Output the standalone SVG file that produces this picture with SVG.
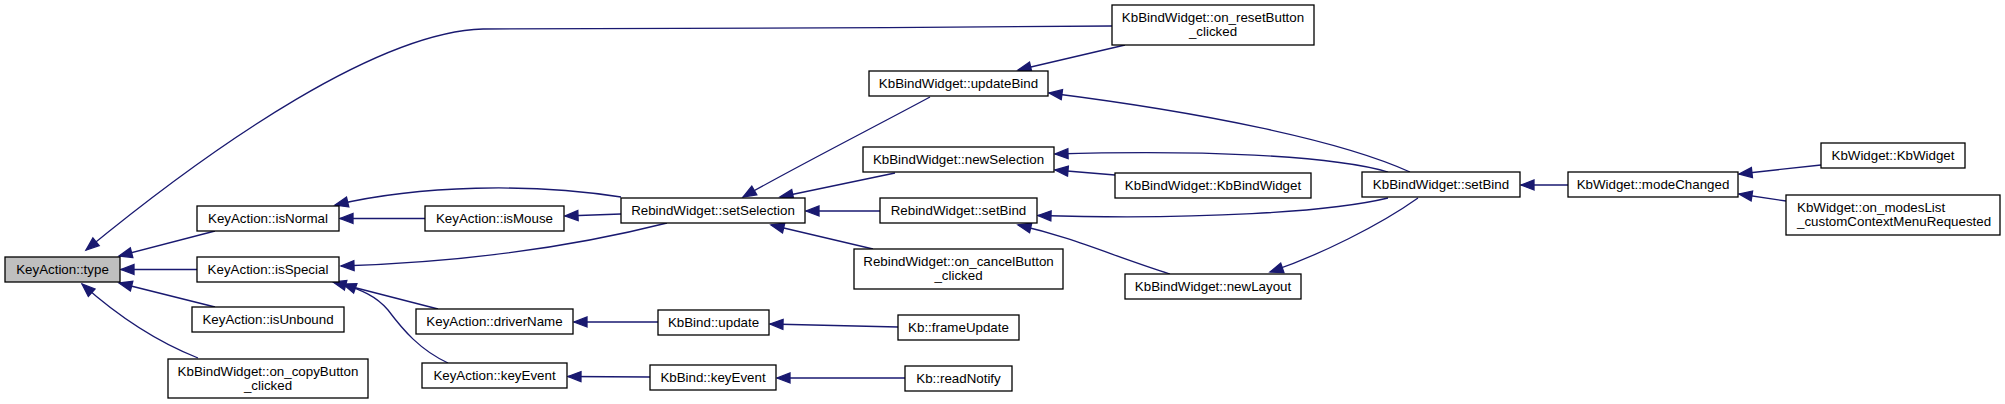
<svg xmlns="http://www.w3.org/2000/svg" width="2005" height="404" viewBox="0 0 2005 404">
<style>
.n rect{fill:#ffffff;stroke:#000000;stroke-width:1.3}
.n.hl rect{fill:#bfbfbf}
.n text{font-family:"Liberation Sans",Arial,Helvetica,sans-serif;font-size:13.33px;fill:#000000;text-anchor:middle}
.n text.l{text-anchor:start}
#edges path{fill:none;stroke:#191970;stroke-width:1.3;marker-end:url(#ah)}
</style>
<defs>
<marker id="ah" markerUnits="userSpaceOnUse" markerWidth="14" markerHeight="10" refX="13" refY="5" orient="auto" overflow="visible">
<path d="M0,0 L13,5 L0,10 Z" fill="#191970" stroke="#191970" stroke-width="1.3"/>
</marker>
</defs>
<rect width="2005" height="404" fill="#ffffff"/>
<g id="edges">
<path d="M1112,26 C900,28 600,29 483,29 C380,32 220,140 86,250"/>
<path d="M215,231 L119,256"/>
<path d="M197,269.5 L121,269.5"/>
<path d="M215,307 L119,283"/>
<path d="M198,358 C160,343 120,318 82,284"/>
<path d="M425,218.5 L340,218.5"/>
<path d="M621,197 C530,183 420,185 335,205"/>
<path d="M667,223 C580,245 470,262 341,266"/>
<path d="M621,214 L565,216"/>
<path d="M438,309 L333,282"/>
<path d="M448,363 C420,350 403,330 388,310 C375,295 360,290 343,284"/>
<path d="M658,322 L574,322"/>
<path d="M650,377 L568,376.5"/>
<path d="M898,327 L770,324"/>
<path d="M905,378 L777,378"/>
<path d="M930,97 C880,124 790,170 743,197"/>
<path d="M895,173 L780,197"/>
<path d="M880,211 L806,211"/>
<path d="M873,249 L771,225"/>
<path d="M1125,45 L1018,70"/>
<path d="M1410,172 C1340,140 1200,112 1049,93"/>
<path d="M1388,172 C1330,155 1200,150 1055,154"/>
<path d="M1115,175 L1055,170"/>
<path d="M1388,198 C1330,212 1200,220 1038,215.5"/>
<path d="M1418,198 C1380,225 1320,255 1270,272"/>
<path d="M1170,274 C1110,255 1075,238 1018,225"/>
<path d="M1568,185 L1521,185"/>
<path d="M1821,165 L1739,174"/>
<path d="M1786,201 L1739,194"/>
</g>
<g id="n_type" class="n hl"><rect x="5" y="257" width="115" height="25"/><text x="62.5" y="274">KeyAction::type</text></g>
<g id="n_isNormal" class="n"><rect x="197" y="206" width="142" height="25"/><text x="268" y="223">KeyAction::isNormal</text></g>
<g id="n_isSpecial" class="n"><rect x="197" y="257" width="142" height="25"/><text x="268" y="274">KeyAction::isSpecial</text></g>
<g id="n_isUnbound" class="n"><rect x="192" y="307" width="152" height="25"/><text x="268" y="324">KeyAction::isUnbound</text></g>
<g id="n_copyButton" class="n"><rect x="168" y="359" width="200" height="39"/><text x="268" y="376">KbBindWidget::on_copyButton</text><text x="268" y="390">_clicked</text></g>
<g id="n_isMouse" class="n"><rect x="425" y="206" width="139" height="25"/><text x="494.5" y="223">KeyAction::isMouse</text></g>
<g id="n_driverName" class="n"><rect x="416" y="309" width="157" height="25"/><text x="494.5" y="326">KeyAction::driverName</text></g>
<g id="n_kaKeyEvent" class="n"><rect x="422" y="363" width="145" height="25"/><text x="494.5" y="380">KeyAction::keyEvent</text></g>
<g id="n_setSelection" class="n"><rect x="621" y="198" width="184" height="25"/><text x="713" y="215">RebindWidget::setSelection</text></g>
<g id="n_update" class="n"><rect x="658" y="310" width="111" height="25"/><text x="713.5" y="327">KbBind::update</text></g>
<g id="n_kbKeyEvent" class="n"><rect x="650" y="365" width="126" height="25"/><text x="713" y="382">KbBind::keyEvent</text></g>
<g id="n_resetButton" class="n"><rect x="1112" y="5" width="202" height="40"/><text x="1213" y="21.5">KbBindWidget::on_resetButton</text><text x="1213" y="35.5">_clicked</text></g>
<g id="n_updateBind" class="n"><rect x="869" y="71" width="179" height="25"/><text x="958.5" y="88">KbBindWidget::updateBind</text></g>
<g id="n_newSelection" class="n"><rect x="863" y="147" width="191" height="25"/><text x="958.5" y="164">KbBindWidget::newSelection</text></g>
<g id="n_kbbwCtor" class="n"><rect x="1115" y="173" width="196" height="25"/><text x="1213" y="190">KbBindWidget::KbBindWidget</text></g>
<g id="n_rbSetBind" class="n"><rect x="880" y="198" width="157" height="25"/><text x="958.5" y="215">RebindWidget::setBind</text></g>
<g id="n_cancelButton" class="n"><rect x="854" y="249" width="209" height="40"/><text x="958.5" y="265.5">RebindWidget::on_cancelButton</text><text x="958.5" y="279.5">_clicked</text></g>
<g id="n_newLayout" class="n"><rect x="1125" y="274" width="176" height="25"/><text x="1213" y="291">KbBindWidget::newLayout</text></g>
<g id="n_frameUpdate" class="n"><rect x="898" y="315" width="121" height="25"/><text x="958.5" y="332">Kb::frameUpdate</text></g>
<g id="n_readNotify" class="n"><rect x="905" y="366" width="107" height="25"/><text x="958.5" y="383">Kb::readNotify</text></g>
<g id="n_kbbwSetBind" class="n"><rect x="1362" y="172" width="158" height="25"/><text x="1441" y="189">KbBindWidget::setBind</text></g>
<g id="n_modeChanged" class="n"><rect x="1568" y="172" width="170" height="25"/><text x="1653" y="189">KbWidget::modeChanged</text></g>
<g id="n_kbWidget" class="n"><rect x="1821" y="143" width="144" height="25"/><text x="1893" y="160">KbWidget::KbWidget</text></g>
<g id="n_modesList" class="n"><rect x="1786" y="195" width="214" height="40"/><text class="l" x="1797" y="211.5">KbWidget::on_modesList</text><text class="l" x="1797" y="225.5">_customContextMenuRequested</text></g>
</svg>
